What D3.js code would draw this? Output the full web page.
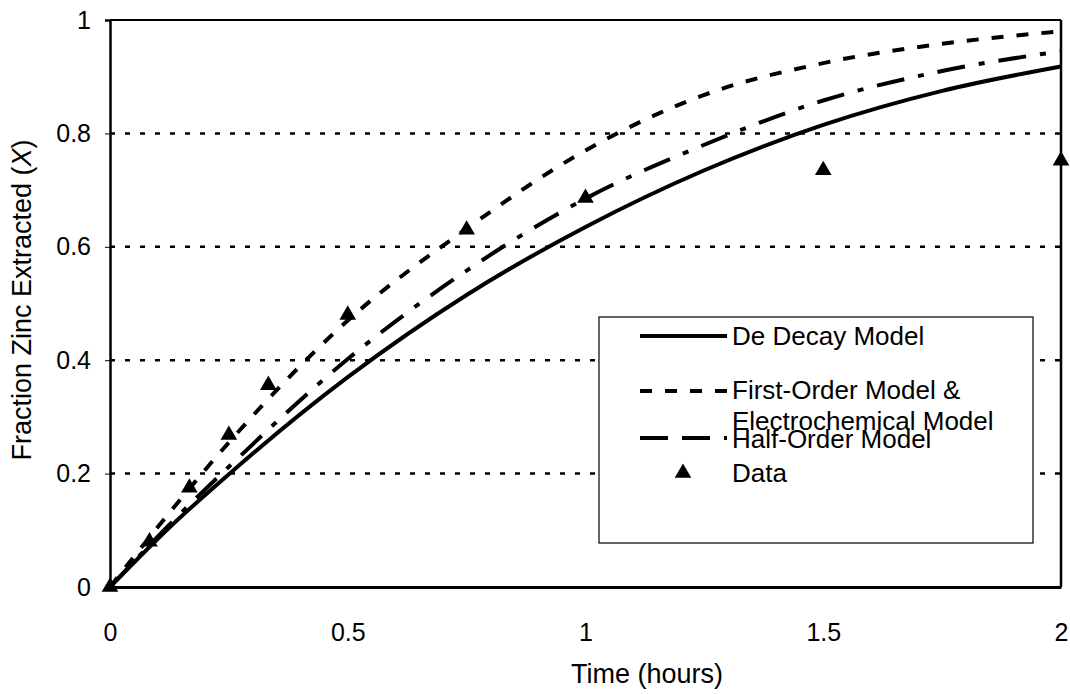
<!DOCTYPE html>
<html><head><meta charset="utf-8">
<script src="https://cdn.jsdelivr.net/npm/d3@7"></script>
<style>body{margin:0;background:#fff}svg{display:block}text{font-family:"Liberation Sans",Arial,sans-serif;fill:#000}</style>
</head><body><svg id="c" width="1070" height="694"></svg>
<script>
const xTicks = [0, 0.5, 1, 1.5, 2];
const xTickLabels = ["0", "0.5", "1", "1.5", "2"];
const yTicks = [0, 0.2, 0.4, 0.6, 0.8, 1];
const yTickLabels = ["0", "0.2", "0.4", "0.6", "0.8", "1"];
const gridValues = [0.2, 0.4, 0.6, 0.8];

const modelTime = [0, 0.125, 0.25, 0.5, 0.75, 1, 1.25, 1.5, 1.75, 2];
const deDecay    = [0, 0.105, 0.199, 0.37, 0.515, 0.635, 0.735, 0.815, 0.875, 0.918];
const firstOrder = [0, 0.131, 0.255, 0.47, 0.632, 0.77, 0.868, 0.924, 0.958, 0.98];
const halfOrder  = [0, 0.11, 0.212, 0.402, 0.558, 0.685, 0.78, 0.858, 0.91, 0.945];

const dataTime = [0, 0.083, 0.167, 0.25, 0.333, 0.5, 0.75, 1, 1.5, 2];
const dataX    = [0, 0.08, 0.175, 0.268, 0.356, 0.48, 0.63, 0.686, 0.735, 0.752];

const L = 110, R = 1061, T = 20, B = 587;
const svg = d3.select("#c");
const x = d3.scaleLinear().domain([0, 2]).range([L, R]);
const y = d3.scaleLinear().domain([0, 1]).range([B, T]);

// gridlines
svg.append("g").selectAll("line").data(gridValues).join("line")
  .attr("x1", L).attr("x2", R).attr("y1", d => y(d)).attr("y2", d => y(d))
  .attr("stroke", "#000").attr("stroke-width", 2.5).attr("stroke-dasharray", "5,10");

// frame
svg.append("line").attr("x1", L).attr("x2", R).attr("y1", T).attr("y2", T).attr("stroke", "#000").attr("stroke-width", 2);
svg.append("line").attr("x1", R).attr("x2", R).attr("y1", T).attr("y2", B).attr("stroke", "#000").attr("stroke-width", 2.5);

// axes
const yAxis = d3.axisLeft(y).tickValues(yTicks).tickSize(5).tickFormat((d, i) => yTickLabels[i]).tickPadding(14);
const gy = svg.append("g").attr("transform", `translate(${L},0)`).call(yAxis);
gy.select(".domain").attr("stroke-width", 2.5);
gy.selectAll(".tick line").attr("stroke-width", 1);
gy.selectAll("text").attr("font-size", 25).attr("font-family", '"Liberation Sans",Arial,sans-serif');

const xAxis = d3.axisBottom(x).tickValues(xTicks).tickSize(0).tickFormat((d, i) => xTickLabels[i]).tickPadding(54);
const gx = svg.append("g").attr("transform", `translate(0,${B})`).call(xAxis);
gx.select(".domain").attr("stroke-width", 3);
gx.selectAll("text").attr("font-size", 25).attr("font-family", '"Liberation Sans",Arial,sans-serif').attr("dy", "0");

// titles
svg.append("text").attr("x", 647).attr("y", 683).attr("text-anchor", "middle").attr("font-size", 27).text("Time (hours)");
const yt = svg.append("text").attr("transform", "translate(31,300) rotate(-90)").attr("text-anchor", "middle").attr("font-size", 27);
yt.append("tspan").text("Fraction Zinc Extracted (");
yt.append("tspan").attr("font-style", "italic").text("X");
yt.append("tspan").text(")");

// curves
const line = d3.line().x(d => x(d[0])).y(d => y(d[1])).curve(d3.curveMonotoneX);
const series = [
  {vals: deDecay, dash: null},
  {vals: firstOrder, dash: "12,13"},
  {vals: halfOrder, dash: "28,14,6,14"}
];
series.forEach(s => {
  svg.append("path").datum(modelTime.map((t, i) => [t, s.vals[i]]))
    .attr("d", line).attr("fill", "none").attr("stroke", "#000").attr("stroke-width", 4)
    .attr("stroke-dasharray", s.dash);
});

// data triangles
const tri = d3.symbol().type(d3.symbolTriangle).size(120);
svg.append("g").selectAll("path").data(dataTime.map((t, i) => [t, dataX[i]])).join("path")
  .attr("d", tri).attr("transform", d => `translate(${x(d[0])},${y(d[1])})`).attr("fill", "#000");

// legend
const lg = svg.append("g");
lg.append("rect").attr("x", 599).attr("y", 317).attr("width", 434).attr("height", 226)
  .attr("fill", "#fff").attr("stroke", "#000").attr("stroke-width", 1.2);
const legendItems = [
  {label: ["De Decay Model"], ly: 336, dash: null, ty: [345]},
  {label: ["First-Order Model &", "Electrochemical Model"], ly: 391, dash: "12,13", ty: [399, 430]},
  {label: ["Half-Order Model"], ly: 438, dash: "28,14", ty: [448]}
];
legendItems.forEach(it => {
  lg.append("line").attr("x1", 640).attr("x2", 727).attr("y1", it.ly).attr("y2", it.ly)
    .attr("stroke", "#000").attr("stroke-width", 4).attr("stroke-dasharray", it.dash);
  it.label.forEach((t, j) => lg.append("text").attr("x", 732).attr("y", it.ty[j]).attr("font-size", 26).text(t));
});
lg.append("path").attr("d", tri).attr("transform", "translate(683,473)").attr("fill", "#000");
lg.append("text").attr("x", 732).attr("y", 482).attr("font-size", 26).text("Data");
</script></body></html>
